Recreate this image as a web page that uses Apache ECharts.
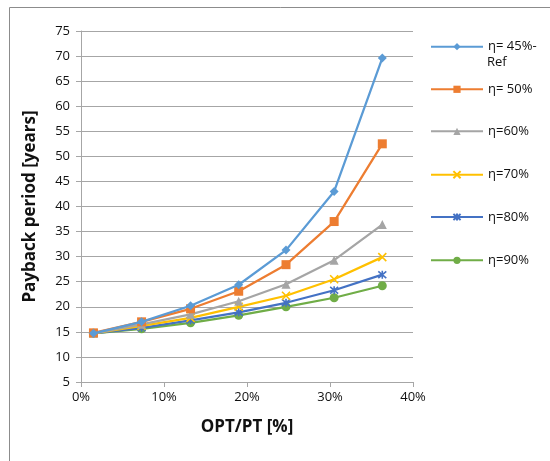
<!DOCTYPE html>
<html>
<head>
<meta charset="utf-8">
<script src="https://cdn.jsdelivr.net/npm/echarts@6/dist/echarts.min.js"></script>
<style>
  html, body { margin: 0; padding: 0; background: #fff; }
  #chart { width: 550px; height: 461px; }
</style>
</head>
<body>
<div id="chart"></div>
<script>
// OPT/PT share [%]
var xValues = [1.5, 7.3, 13.2, 19.0, 24.7, 30.5, 36.3];
var seriesNames = ['η= 45%-Ref', 'η= 50%', 'η=60%', 'η=70%', 'η=80%', 'η=90%'];
var eta45 = [14.7, 17.0, 20.2, 24.4, 31.3, 43.0, 69.6];
var eta50 = [14.8, 17.0, 19.6, 23.1, 28.4, 37.0, 52.5];
var eta60 = [14.7, 16.5, 18.5, 21.1, 24.5, 29.3, 36.4];
var eta70 = [14.7, 16.2, 17.8, 20.0, 22.2, 25.5, 29.9];
var eta80 = [14.7, 15.8, 17.3, 18.9, 20.8, 23.3, 26.4];
var eta90 = [14.7, 15.6, 16.8, 18.3, 20.0, 21.8, 24.2];
var allValues = [eta45, eta50, eta60, eta70, eta80, eta90];

var colors = ['#5B9BD5', '#ED7D31', '#A5A5A5', '#FFC000', '#4472C4', '#70AD47'];
var symbols = [
  'diamond',
  'rect',
  'triangle',
  'path://M0,0L10,10M10,0L0,10',
  'path://M0,0L10,10M10,0L0,10M5,-1L5,11',
  'circle'
];
var symbolSizes = [9, 9, 9, 8, 8, 9];
// vertical centre of each legend row
var legendCenters = [44.7, 87.3, 129.3, 172.7, 215, 258.3];
var legendItemH = 9;

var font = 'Open Sans';

var chart = echarts.init(document.getElementById('chart'));

function pairs(vals) {
  return vals.map(function (v, i) { return [xValues[i], v]; });
}

var series = seriesNames.map(function (name, i) {
  var stroked = symbols[i].indexOf('path://') === 0;
  return {
    name: name,
    type: 'line',
    data: pairs(allValues[i]),
    symbol: symbols[i],
    symbolSize: symbolSizes[i],
    lineStyle: { color: colors[i], width: 2.25 },
    itemStyle: stroked
      ? { color: 'rgba(0,0,0,0)', borderColor: colors[i], borderWidth: 1.6 }
      : { color: colors[i] },
    emphasis: { disabled: true },
    z: 10 - i
  };
});

var legends = seriesNames.map(function (name, i) {
  return {
    orient: 'vertical',
    left: 430,
    top: legendCenters[i] - legendItemH / 2 - (i === 0 ? 0 : 0),
    padding: 0,
    itemWidth: 52,
    itemHeight: legendItemH,
    data: [name],
    // first entry wraps in the original; second line drawn as graphic below
    formatter: function (n) { return n === 'η= 45%-Ref' ? 'η= 45%-' : n; },
    textStyle: { fontFamily: font, fontSize: 13, color: '#111' }
  };
});

var option = {
  backgroundColor: '#fff',
  animation: false,
  color: colors,
  textStyle: { fontFamily: font },
  graphic: [{
    type: 'rect',
    shape: { x: 9.5, y: 7.5, width: 560, height: 470 },
    style: { fill: 'none', stroke: '#8c8c8c', lineWidth: 1 },
    silent: true
  }, {
    type: 'text',
    left: 487,
    top: 56,
    style: { text: 'Ref', fontFamily: font, fontSize: 13, fill: '#111' },
    silent: true
  }],
  grid: { left: 81, right: 137, top: 31, bottom: 79, containLabel: false },
  legend: legends,
  xAxis: {
    type: 'value',
    min: 0,
    max: 40,
    interval: 10,
    name: 'OPT/PT [%]',
    nameLocation: 'middle',
    nameGap: 37,
    nameTextStyle: { fontFamily: font, fontSize: 17, fontWeight: 'bold', color: '#111' },
    axisLine: { show: true, onZero: false, lineStyle: { color: '#a6a6a6', width: 1 } },
    axisTick: { show: true, length: 5, lineStyle: { color: '#a6a6a6' } },
    axisLabel: { formatter: '{value}%', fontFamily: font, fontSize: 13, color: '#111', margin: 9 },
    splitLine: { show: false }
  },
  yAxis: {
    type: 'value',
    min: 5,
    max: 75,
    interval: 5,
    name: 'Payback period [years]',
    nameLocation: 'middle',
    nameGap: 42,
    nameTextStyle: { fontFamily: font, fontSize: 17, fontWeight: 'bold', color: '#111' },
    axisLine: { show: true, lineStyle: { color: '#a6a6a6', width: 1 } },
    axisTick: { show: true, length: 5, lineStyle: { color: '#a6a6a6' } },
    axisLabel: { fontFamily: font, fontSize: 13, color: '#111', margin: 11 },
    splitLine: { show: true, lineStyle: { color: '#a6a6a6', width: 1 } }
  },
  series: series
};

chart.setOption(option);
</script>
</body>
</html>
